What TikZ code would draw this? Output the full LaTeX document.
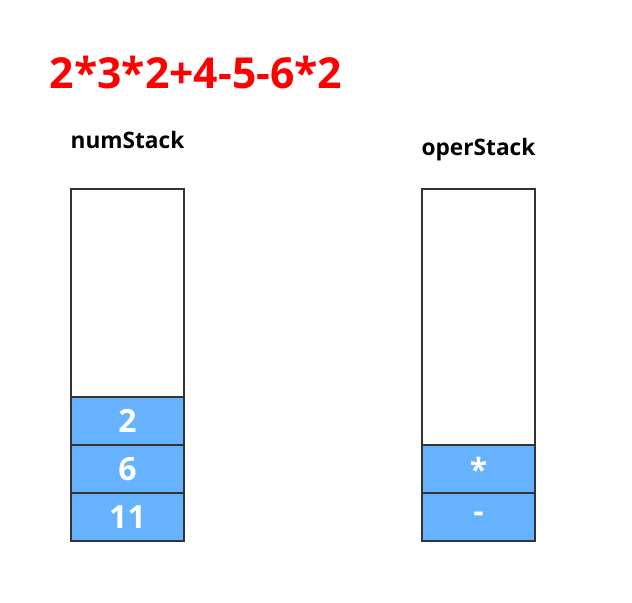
\documentclass[tikz,border=0pt]{standalone}
\usepackage{fontspec}
\setmainfont{Open Sans}
\definecolor{cellblue}{HTML}{66B2FF}
\definecolor{edgegray}{HTML}{333333}
\tikzset{
  stackcell/.style={draw=edgegray, line width=1.8pt, fill=cellblue, text=white,
    minimum width=84.75pt, minimum height=36pt, inner sep=0pt,
    font=\fontsize{24pt}{24pt}\selectfont\bfseries},
  stackbody/.style={draw=edgegray, line width=1.8pt, fill=white,
    minimum width=84.75pt, inner sep=0pt},
  stacklabel/.style={font=\fontsize{17pt}{17pt}\selectfont\bfseries}
}
\begin{document}
\begin{tikzpicture}[x=0.75pt, y=-0.75pt]
    \useasboundingbox (0,0) rectangle (632,603);
    % espressione
    \node[red, font=\fontsize{32pt}{32pt}\selectfont\bfseries] (expr) at (196,72) {2*3*2+4-5-6*2};
    % stack dei numeri
    \node[stacklabel] (numlabel) at (127.5,140) {numStack};
    \node[stackbody, minimum height=156pt] (numtop) at (127.5,293) {};
    \node[stackcell] (num2) at (127.5,421) {2};
    \node[stackcell] (num1) at (127.5,469) {6};
    \node[stackcell] (num0) at (127.5,517) {11};
    % stack degli operatori
    \node[stacklabel] (operlabel) at (478.5,150) {operStack};
    \node[stackbody, minimum height=192pt] (opertop) at (478.5,317) {};
    \node[stackcell] (oper1) at (478.5,469) {*};
    \node[stackcell] (oper0) at (478.5,517) {-};
  \end{tikzpicture}
\end{document}
